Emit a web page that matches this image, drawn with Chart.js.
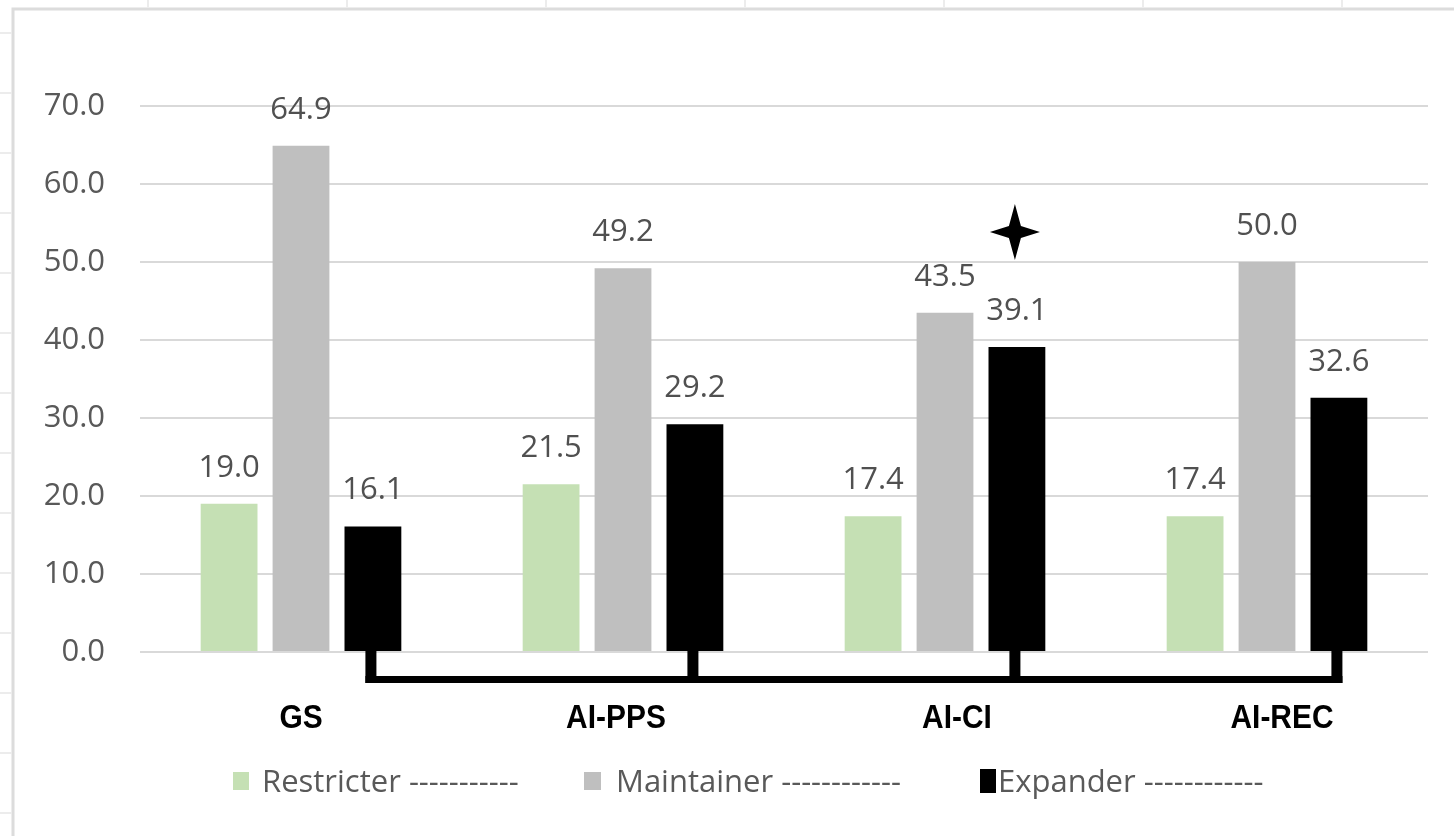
<!DOCTYPE html>
<html>
<head>
<meta charset="utf-8">
<title>Restricter / Maintainer / Expander</title>
<script src="https://cdn.jsdelivr.net/npm/chart.js@4/dist/chart.umd.min.js"></script>
<style>
  html, body { margin: 0; padding: 0; background: #ffffff; }
  #wrap { width: 1454px; height: 836px; position: relative; }
</style>
</head>
<body>
<div id="wrap"><canvas id="chart" width="1454" height="836"></canvas></div>
<script>
// Groups and percentages per profile
const categories = ['GS', 'AI-PPS', 'AI-CI', 'AI-REC'];
const restricter = [19.0, 21.5, 17.4, 17.4];
const maintainer = [64.9, 49.2, 43.5, 50.0];
const expander   = [16.1, 29.2, 39.1, 32.6];
const seriesNames = ['Restricter', 'Maintainer', 'Expander'];
const legendTexts = ['Restricter -----------', 'Maintainer ------------', 'Expander ------------'];
const yMin = 0, yMax = 70, yStep = 10;
const starredCategory = 'AI-CI';

const COLORS = ['#c5e0b4', '#bfbfbf', '#000000'];
const NUM_FONT = "'Open Sans', 'Liberation Sans', sans-serif";
const CAT_FONT = "'Liberation Sans', Arial, sans-serif";

// Light frame with ruler ticks along the top and left edges
const framePlugin = {
  id: 'frame',
  beforeDraw(chart) {
    const ctx = chart.ctx;
    ctx.save();
    ctx.fillStyle = '#ffffff';
    ctx.fillRect(0, 0, chart.width, chart.height);
    ctx.strokeStyle = '#dcdcdc';
    ctx.lineWidth = 3;
    ctx.beginPath();
    ctx.moveTo(13, 836);
    ctx.lineTo(13, 9);
    ctx.lineTo(1454, 9);
    ctx.stroke();
    ctx.strokeStyle = '#ececec';
    ctx.lineWidth = 2;
    ctx.beginPath();
    for (let x = 148; x < 1454; x += 199) { ctx.moveTo(x, 0); ctx.lineTo(x, 8); }
    for (let y = 33; y < 836; y += 60) { ctx.moveTo(0, y); ctx.lineTo(12, y); }
    ctx.stroke();
    ctx.restore();
  }
};

// Category names under each group, set in a narrow bold face
const categoryLabelPlugin = {
  id: 'categoryLabels',
  afterDraw(chart) {
    const ctx = chart.ctx;
    const xs = chart.scales.x;
    const squeeze = 0.88;
    const nudge = [0, -7, 12, 15];
    ctx.save();
    ctx.font = `bold 34px ${CAT_FONT}`;
    ctx.fillStyle = '#000000';
    ctx.textAlign = 'center';
    ctx.textBaseline = 'middle';
    categories.forEach((c, i) => {
      const x = xs.getPixelForTick(i) + nudge[i];
      ctx.save();
      ctx.translate(x, 719);
      ctx.scale(squeeze, 1);
      ctx.fillText(c, 0, 0);
      ctx.restore();
    });
    ctx.restore();
  }
};

// Value printed above each bar
const valueLabelPlugin = {
  id: 'valueLabels',
  afterDatasetsDraw(chart) {
    const ctx = chart.ctx;
    ctx.save();
    ctx.font = `31px ${NUM_FONT}`;
    ctx.fillStyle = '#505050';
    ctx.textAlign = 'center';
    ctx.textBaseline = 'alphabetic';
    chart.data.datasets.forEach((ds, di) => {
      chart.getDatasetMeta(di).data.forEach((bar, i) => {
        ctx.fillText(ds.data[i].toFixed(1), bar.x, bar.y - 27);
      });
    });
    ctx.restore();
  }
};

// Bracket joining the Expander bars below the baseline, plus the star marker
const bracketPlugin = {
  id: 'bracket',
  afterDatasetsDraw(chart) {
    const ctx = chart.ctx;
    const bars = chart.getDatasetMeta(2).data;
    const y0 = chart.scales.y.getPixelForValue(0);
    const stemW = 11, drop = 31, railH = 7;
    ctx.save();
    ctx.fillStyle = '#000000';
    bars.forEach(b => ctx.fillRect(b.x - stemW / 2 - 2, y0 - 2, stemW, drop + 2));
    const first = bars[0], last = bars[bars.length - 1];
    ctx.fillRect(first.x - stemW / 2 - 2, y0 + drop - railH, (last.x + stemW / 2 - 2) - (first.x - stemW / 2 - 2), railH);

    // four-pointed star over the flagged group's Expander bar
    const idx = categories.indexOf(starredCategory);
    const sb = bars[idx];
    const cx = sb.x - 2, cy = sb.y - 115;
    const rx = 25, ry = 28, r = 6;
    ctx.beginPath();
    ctx.moveTo(cx, cy - ry);
    ctx.lineTo(cx + r, cy - r);
    ctx.lineTo(cx + rx, cy);
    ctx.lineTo(cx + r, cy + r);
    ctx.lineTo(cx, cy + ry);
    ctx.lineTo(cx - r, cy + r);
    ctx.lineTo(cx - rx, cy);
    ctx.lineTo(cx - r, cy - r);
    ctx.closePath();
    ctx.fill();
    ctx.restore();
  }
};

// Legend row along the bottom
const legendRowPlugin = {
  id: 'legendRow',
  afterDraw(chart) {
    const ctx = chart.ctx;
    const boxX = [233, 584, 980];
    const textX = [262, 616, 998];
    const boxes = [[16, 18], [17, 18], [16, 24]];
    const midY = 781;
    ctx.save();
    ctx.font = `31px ${NUM_FONT}`;
    ctx.textBaseline = 'alphabetic';
    ctx.textAlign = 'left';
    chart.data.datasets.forEach((ds, i) => {
      ctx.fillStyle = ds.backgroundColor;
      ctx.fillRect(boxX[i], midY - boxes[i][1] / 2, boxes[i][0], boxes[i][1]);
      ctx.fillStyle = '#595959';
      ctx.fillText(legendTexts[i], textX[i], midY + 11);
    });
    ctx.restore();
  }
};

new Chart(document.getElementById('chart'), {
  type: 'bar',
  data: {
    labels: categories,
    datasets: [
      { label: seriesNames[0], data: restricter, backgroundColor: COLORS[0] },
      { label: seriesNames[1], data: maintainer, backgroundColor: COLORS[1] },
      { label: seriesNames[2], data: expander,   backgroundColor: COLORS[2] }
    ]
  },
  options: {
    responsive: false,
    animation: false,
    devicePixelRatio: 1,
    layout: { padding: { left: 0, right: 26, top: 106, bottom: 0 } },
    datasets: { bar: { barPercentage: 0.79, categoryPercentage: 0.67, borderWidth: 0 } },
    plugins: { legend: { display: false }, tooltip: { enabled: false } },
    scales: {
      x: {
        grid: { display: false, drawTicks: false },
        border: { display: false },
        ticks: { display: false },
        afterFit(scale) { scale.height = 184; }
      },
      y: {
        min: yMin, max: yMax,
        grid: { color: '#d9d9d9', lineWidth: 2, drawTicks: false },
        border: { display: false },
        ticks: {
          stepSize: yStep, padding: 35, color: '#595959',
          font: { family: NUM_FONT, size: 31 },
          callback: v => Number(v).toFixed(1)
        },
        afterFit(scale) { scale.width = 140; }
      }
    }
  },
  plugins: [framePlugin, valueLabelPlugin, bracketPlugin, categoryLabelPlugin, legendRowPlugin]
});
</script>
</body>
</html>
